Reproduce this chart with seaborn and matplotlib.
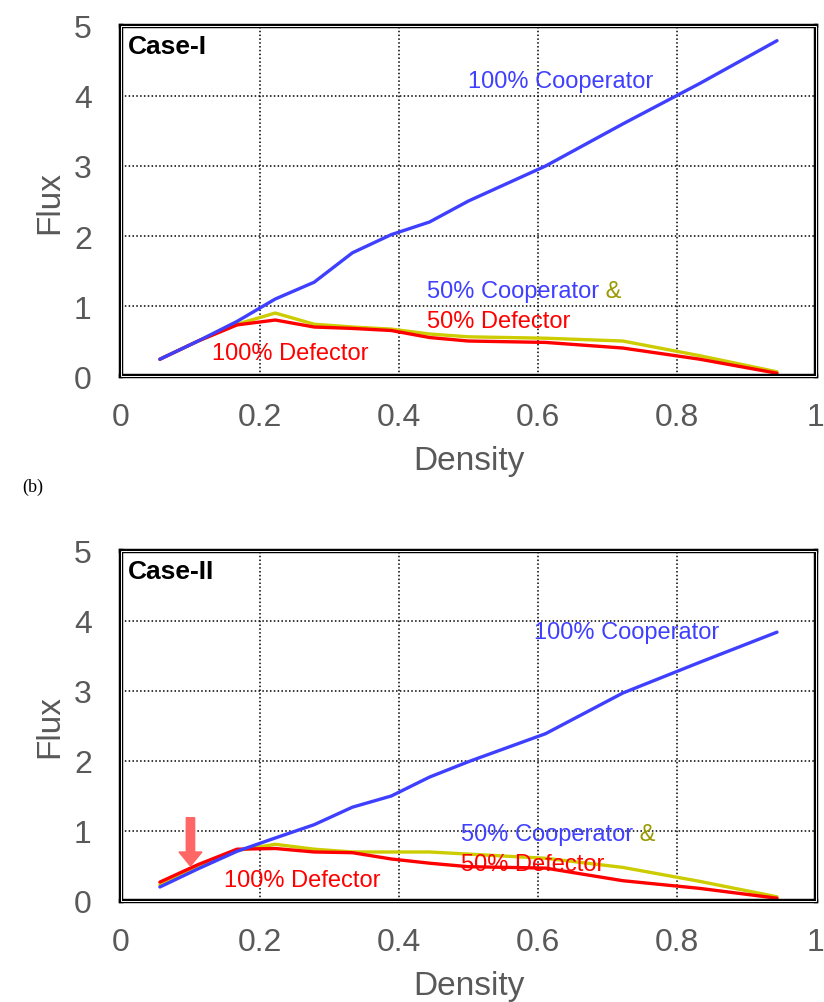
import numpy as np
import pandas as pd
import seaborn as sns
import matplotlib.pyplot as plt
from matplotlib.patches import Rectangle

# densities shared by every curve
density = [0.056, 0.111, 0.167, 0.222, 0.278, 0.333, 0.389, 0.444, 0.5, 0.611, 0.722, 0.833, 0.944]

# Case-I
case1_coop = [0.24, 0.50, 0.78, 1.10, 1.34, 1.76, 2.02, 2.20, 2.50, 3.00, 3.60, 4.18, 4.79]
case1_mixed = [0.24, 0.50, 0.74, 0.90, 0.74, 0.70, 0.67, 0.60, 0.56, 0.54, 0.50, 0.29, 0.06]
case1_defect = [0.24, 0.50, 0.73, 0.80, 0.70, 0.68, 0.65, 0.55, 0.50, 0.48, 0.40, 0.24, 0.04]

# Case-II
case2_coop = [0.20, 0.46, 0.71, 0.90, 1.09, 1.34, 1.50, 1.77, 1.99, 2.39, 2.97, 3.41, 3.84]
case2_mixed = [0.23, 0.48, 0.72, 0.81, 0.74, 0.70, 0.70, 0.70, 0.67, 0.61, 0.48, 0.28, 0.06]
case2_defect = [0.27, 0.52, 0.74, 0.75, 0.70, 0.69, 0.60, 0.54, 0.49, 0.47, 0.29, 0.18, 0.04]

x_ticks = [0, 0.2, 0.4, 0.6, 0.8, 1]
x_ticklabels = ["0", "0.2", "0.4", "0.6", "0.8", "1"]
y_ticks = [0, 1, 2, 3, 4, 5]

palette = {"mixed": "#cccc00", "defect": "#ff0000", "coop": "#3f3fff"}
GREY = "#595959"

sns.set_theme(style="white")
plt.rcParams["font.family"] = ["Liberation Sans", "DejaVu Sans"]


def long_frame(coop, mixed, defect):
    rows = []
    for name, vals in [("mixed", mixed), ("defect", defect), ("coop", coop)]:
        for d, f in zip(density, vals):
            rows.append({"Density": d, "Flux": f, "series": name})
    return pd.DataFrame(rows)


def style_axes(ax):
    ax.set_xlim(0, 1)
    ax.set_ylim(0, 5)
    ax.set_xticks(x_ticks)
    ax.set_xticklabels(x_ticklabels)
    ax.set_yticks(y_ticks)
    ax.set_xticks(np.arange(0.1, 1.0, 0.2), minor=True)
    ax.set_yticks(np.arange(0.5, 5.0, 1.0), minor=True)
    ax.grid(True, which="major", color="black", linestyle=(0, (1, 1.5)), linewidth=1.1)
    ax.tick_params(which="major", direction="in", length=5, width=1, color="#404040",
                   labelsize=23, labelcolor=GREY)
    ax.tick_params(axis="x", which="major", pad=19)
    ax.tick_params(axis="y", which="major", pad=21)
    ax.tick_params(which="minor", direction="in", length=5, width=1, color="#c8c8c8")
    ax.set_xlabel("Density", fontsize=24, color=GREY, labelpad=9)
    ax.set_ylabel("Flux", fontsize=24, color=GREY, labelpad=6.5)
    for sp in ax.spines.values():
        sp.set_visible(True)
        sp.set_color("black")
        sp.set_linewidth(3.2)
    ax.add_patch(Rectangle((0, 0), 1, 1, transform=ax.transAxes, fill=False,
                           edgecolor="white", linewidth=0.7, clip_on=False, zorder=5))


def draw_case(ax, df, title, coop_pos, mixed_pos, defect_pos):
    sns.lineplot(data=df, x="Density", y="Flux", hue="series", palette=palette,
                 hue_order=["mixed", "defect", "coop"], sort=False, linewidth=2.4,
                 legend=False, ax=ax)
    style_axes(ax)
    ax.text(0.01, 4.88, title, fontsize=19, fontweight="bold", color="black",
            ha="left", va="top")
    ax.text(coop_pos[0], coop_pos[1], "100% Cooperator", fontsize=17,
            color="#3f3fff", ha="left", va="center")
    t = ax.text(mixed_pos[0], mixed_pos[1], "50% Cooperator", fontsize=17,
                color="#3f3fff", ha="left", va="center")
    ax.annotate(" &", xy=(1, 0), xycoords=t, fontsize=17, color="#999900",
                ha="left", va="bottom")
    ax.text(mixed_pos[0], mixed_pos[1] - 0.42, "50% Defector", fontsize=17,
            color="#ff0000", ha="left", va="center")
    ax.text(defect_pos[0], defect_pos[1], "100% Defector", fontsize=17,
            color="#ff0000", ha="left", va="center")


fig = plt.figure(figsize=(8.24, 10.03), dpi=100)
ax1 = fig.add_axes([0.1468, 0.6241, 0.8434, 0.349])
ax2 = fig.add_axes([0.1468, 0.1007, 0.8434, 0.349])

draw_case(ax1, long_frame(case1_coop, case1_mixed, case1_defect), "Case-I",
          (0.499, 4.21), (0.44, 1.21), (0.131, 0.33))
draw_case(ax2, long_frame(case2_coop, case2_mixed, case2_defect), "Case-II",
          (0.594, 3.84), (0.489, 0.95), (0.148, 0.3))

# red marker arrow in case II
arrow_x, arrow_top, arrow_tip = 0.1, 1.19, 0.5
ax2.arrow(arrow_x, arrow_top, 0, arrow_tip - arrow_top, width=0.012, head_width=0.033,
          head_length=0.2, length_includes_head=True, color="#ff6666", zorder=6)

fig.text(22 / 824, 1 - 487 / 1003, "(b)", fontsize=13, family="Liberation Serif",
         ha="left", va="center", color="black")

fig.savefig("out.png", dpi=100)
